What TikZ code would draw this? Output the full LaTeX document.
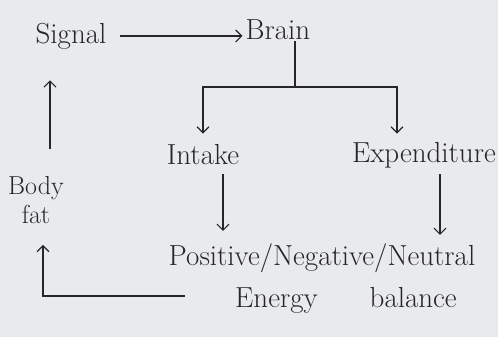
\documentclass[tikz,border=0pt]{standalone}
\usepackage{tikz}
\usetikzlibrary{arrows.meta,positioning}
\definecolor{ebpaper}{RGB}{233,234,236}
\definecolor{ebink}{RGB}{38,38,42}

\begin{document}
\begin{tikzpicture}[x=1pt,y=1pt,
  word/.style={text=ebink,font=\fontsize{29}{34}\selectfont,inner sep=1pt},
  link/.style={ebink,line width=1.2pt,-{Straight Barb[length=6pt,width=12pt]}},
  plain/.style={ebink,line width=1.2pt}]
  \fill[ebpaper] (0,0) rectangle (498,337);
  \useasboundingbox (0,0) rectangle (498,337);
  \node[word] (signal) at (71,301) {Signal};
  \node[word] (brain) at (278,307) {Brain};
  \node[word] (intake) at (203,182) {Intake};
  \node[word,anchor=east] (expend) at (497,182) {Expenditure};
  \node[word,align=center,font=\fontsize{29}{42}\selectfont] (balance) at (322,58) {Positive/Negative/Neutral\\\hspace*{48pt}Energy\hspace{52pt}balance};
  \node[word,align=center,font=\fontsize{26}{29}\selectfont] (bodyfat) at (36,137) {Body\\fat};
  \coordinate (split) at (295,250);
  \coordinate (loop) at (185,41);
  \draw[link,shorten <=12pt,shorten >=2pt] (signal.east) -- (signal.east -| brain.west);
  \draw[plain] (brain.south -| split) -- (split);
  \draw[link,shorten >=10pt] (split) -| (intake.north);
  \draw[link,shorten >=10pt] (split) -| (intake.north -| 397,0);
  \draw[link,shorten <=8pt,shorten >=12pt] ([xshift=20pt]intake.south) -- ([xshift=20pt]intake.south |- balance.north);
  \draw[link,shorten <=5pt,shorten >=8pt] (expend.south -| 440,0) -- (balance.north -| 440,0);
  \draw[link,shorten >=20pt] (loop) -| ([xshift=7pt]bodyfat.south);
  \draw[link,shorten <=26pt,shorten >=30pt] ([xshift=14pt]bodyfat.north) -- ([xshift=14pt]bodyfat.north |- signal.south);
\end{tikzpicture}
\end{document}
